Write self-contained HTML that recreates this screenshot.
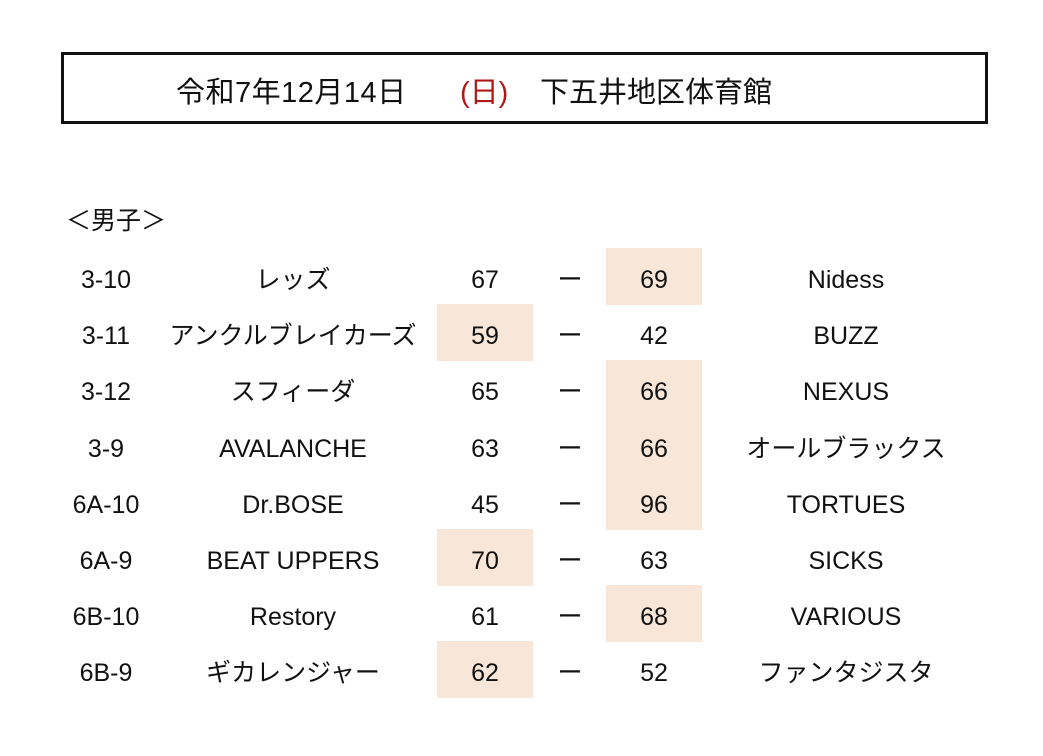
<!DOCTYPE html>
<html><head><meta charset="utf-8"><style>
body{margin:0;width:1043px;height:756px;background:#fff;position:relative;overflow:hidden;font-family:"Liberation Sans","Noto Sans CJK JP",sans-serif;color:#111}
.box{position:absolute;left:61px;top:52px;width:921px;height:66px;border:3px solid #111}
.t{position:absolute;font-size:29px;line-height:30px;top:78px;white-space:nowrap}
.c{position:absolute;font-size:25px;line-height:56px;text-align:center;white-space:nowrap;padding-top:4px}
.h{position:absolute;background:#f8e6d8;width:96px;height:57px}
</style></head><body>
<div class="box"></div>
<div class="t" style="left:176px;letter-spacing:0.5px">令和7年12月14日</div>
<div class="t" style="left:460px;color:#b01818">(日)</div>
<div class="t" style="left:540px">下五井地区体育館</div>
<div style="position:absolute;left:66px;top:206px;font-size:25px;line-height:30px">＜男子＞</div>
<div id="rows"></div>
<script>
var d=[["3-10","レッズ","67","69","Nidess",2],["3-11","アンクルブレイカーズ","59","42","BUZZ",1],["3-12","スフィーダ","65","66","NEXUS",2],["3-9","AVALANCHE","63","66","オールブラックス",2],["6A-10","Dr.BOSE","45","96","TORTUES",2],["6A-9","BEAT UPPERS","70","63","SICKS",1],["6B-10","Restory","61","68","VARIOUS",2],["6B-9","ギカレンジャー","62","52","ファンタジスタ",1]];
var h="";
d.forEach(function(r,i){var y=248+56.2*i;
if(r[5]==1)h+='<div class="h" style="left:437px;top:'+y+'px"></div>';else h+='<div class="h" style="left:606px;top:'+y+'px"></div>';
function c(x,w,t){h+='<div class="c" style="left:'+(x-w/2)+'px;width:'+w+'px;top:'+y+'px">'+t+'</div>';}
c(106,120,r[0]);c(293,300,r[1]);c(485,96,r[2]);c(570,40,"ー");c(654,96,r[3]);c(846,300,r[4]);});
document.getElementById("rows").innerHTML=h;
</script>
</body></html>
